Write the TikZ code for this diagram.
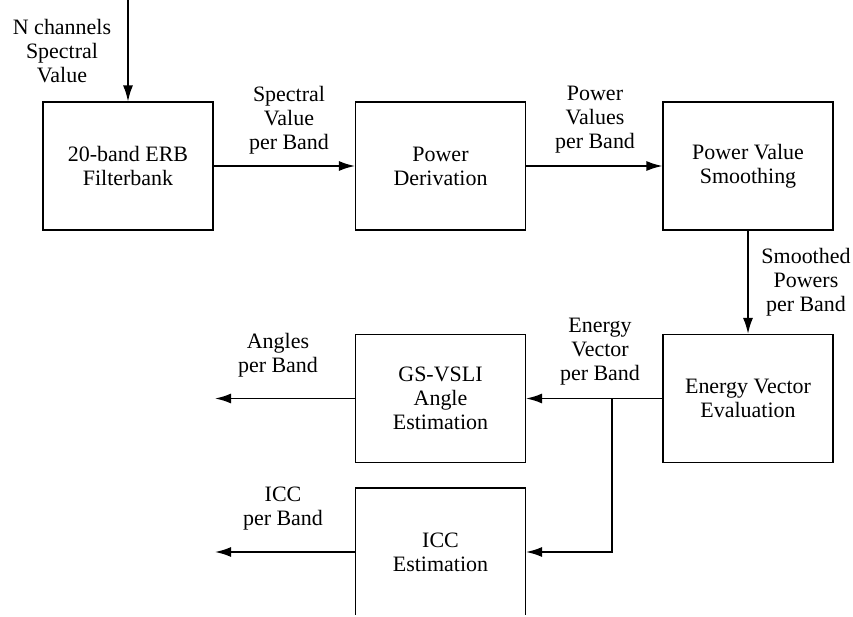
\documentclass[tikz,border=0pt]{standalone}
\usepackage{fontspec}
\setmainfont{Liberation Serif}
\usepackage{tikz}
\usetikzlibrary{arrows.meta}

\begin{document}
\begin{tikzpicture}[scale=1.0,
    every node/.style={font=\fontsize{12.5}{13.6}\selectfont},
    block/.style={draw, line width=0.6pt, minimum width=3.4cm, minimum height=2.56cm, align=center},
    lbl/.style={align=center},
    arr/.style={line width=1pt, -{Latex[length=3.2mm,width=2mm]}}]
    \useasboundingbox (0,0) rectangle (17.06,12.32);
    \clip (-1,0.04) rectangle (18.06,13.32);
    % blocks
    \node[block] (erb)    at (2.56,9.00)  {20-band ERB\\Filterbank};
    \node[block] (pder)   at (8.81,9.00)  {Power\\Derivation};
    \node[block] (psmth)  at (14.96,9.00) {Power Value\\Smoothing};
    \node[block] (ev)     at (14.96,4.35) {Energy Vector\\Evaluation};
    \node[block] (gs)     at (8.81,4.35)  {GS-VSLI\\Angle\\Estimation};
    \node[block] (icc)    at (8.81,1.28)  {ICC\\Estimation};
    % free ends
    \coordinate (in)     at (2.56,12.32);
    \coordinate (split)  at (12.24,4.35);
    \coordinate (out)    at (4.30,0);
    % labels
    \node[lbl] (lin)   at (1.24,11.30)  {N channels\\Spectral\\Value};
    \node[lbl] (lspec) at (5.78,9.92)   {Spectral\\Value\\per Band};
    \node[lbl] (lpow)  at (11.90,9.92)  {Power\\Values\\per Band};
    \node[lbl] (lsm)   at (16.12,6.68)  {Smoothed\\Powers\\per Band};
    \node[lbl] (len)   at (12.00,5.28)  {Energy\\Vector\\per Band};
    \node[lbl] (lang)  at (5.56,5.22)   {Angles\\per Band};
    \node[lbl] (licc)  at (5.66,2.14)   {ICC\\per Band};
    % connectors
    \draw[arr] (in) -- (erb);
    \draw[arr] (erb) -- (pder);
    \draw[arr] (pder) -- (psmth);
    \draw[arr] (psmth) -- (ev);
    \draw[arr] (ev) -- (gs);
    \draw[arr] (split) |- (icc.east);
    \draw[arr] (gs.west) -- (gs.west -| out);
    \draw[arr] (icc.west) -- (icc.west -| out);
\end{tikzpicture}
\end{document}
